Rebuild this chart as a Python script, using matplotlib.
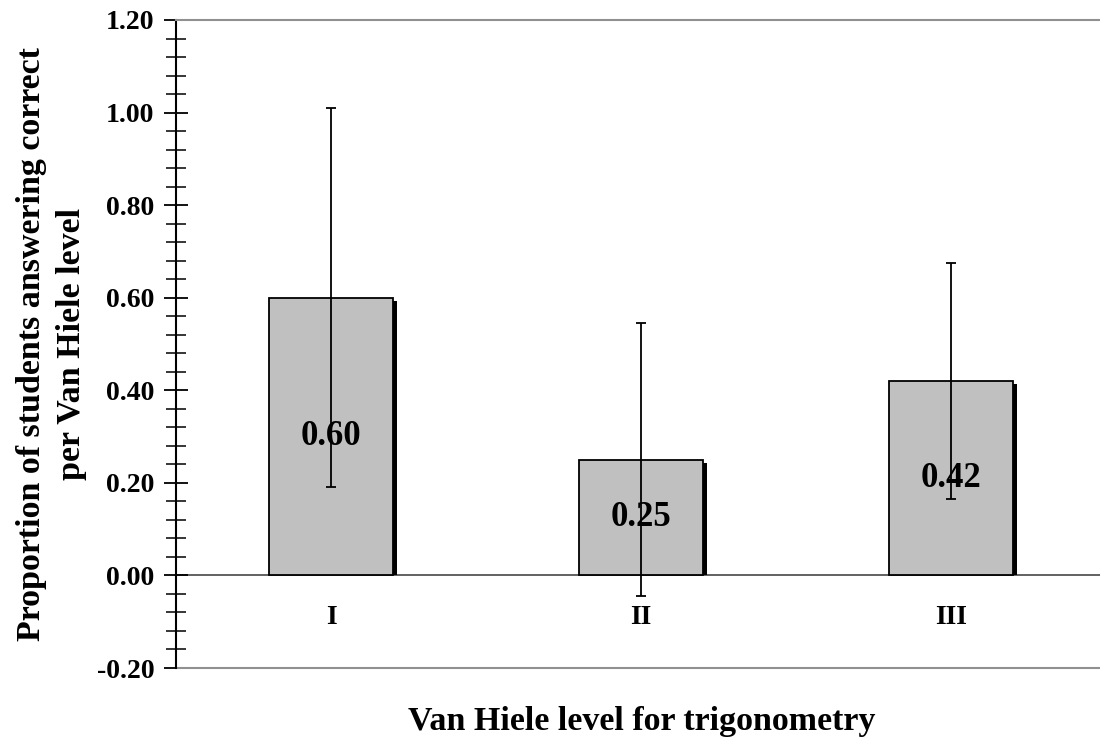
import matplotlib.pyplot as plt
from matplotlib.ticker import MultipleLocator

levels = ['I', 'II', 'III']
proportions = [0.60, 0.25, 0.42]
errors = [0.41, 0.295, 0.255]
value_labels = ['0.60', '0.25', '0.42']

plt.rcParams['font.family'] = ['Liberation Serif', 'DejaVu Serif']
plt.rcParams['font.weight'] = 'bold'

fig = plt.figure(figsize=(11, 7.4), dpi=100)
ax = fig.add_axes([176 / 1100, 72 / 740, 930 / 1100, 648 / 740])

x = list(range(len(levels)))

# shadow behind each bar
shadow_dx = 4 / 310
shadow_dy = 3 / 463
ax.bar([i + shadow_dx for i in x], [p - shadow_dy for p in proportions], width=0.4,
       color='black', zorder=2)
ax.bar(x, proportions, width=0.4, color='#c0c0c0', edgecolor='black', linewidth=1.3, zorder=3)

for i, p, lab in zip(x, proportions, value_labels):
    ax.text(i, p / 2, lab, ha='center', va='center', fontsize=25, fontweight='bold', zorder=4)

ax.errorbar(x, proportions, yerr=errors, fmt='none', ecolor='black', elinewidth=1.3,
            capsize=3.6, capthick=1.3, zorder=5)

ax.set_xlim(-0.5, 2.5)
ax.set_ylim(-0.2, 1.2)
ax.yaxis.set_major_locator(MultipleLocator(0.2))
ax.yaxis.set_minor_locator(MultipleLocator(0.04))
ax.yaxis.set_major_formatter(lambda v, pos: f'{v:.2f}')

ax.spines['right'].set_visible(False)
ax.spines['top'].set_color('#909090')
ax.spines['top'].set_linewidth(1.5)
ax.spines['left'].set_color('black')
ax.spines['left'].set_linewidth(1.5)
ax.spines['bottom'].set_position(('data', 0))
ax.spines['bottom'].set_color('#555555')
ax.spines['bottom'].set_linewidth(1.3)
ax.spines['bottom'].set_zorder(1)
ax.axhline(-0.2, color='#909090', linewidth=1.5, clip_on=False)

ax.tick_params(axis='y', which='major', direction='inout', length=17, width=1.3,
               labelsize=20, pad=7)
ax.tick_params(axis='y', which='minor', direction='inout', length=14, width=1.1)
ax.set_xticks(x)
ax.set_xticklabels(levels, fontsize=20, fontweight='bold')
ax.tick_params(axis='x', length=0, pad=21)
for t in ax.get_yticklabels():
    t.set_fontweight('bold')

ax.set_ylabel('Proportion of students answering correct\nper Van Hiele level',
              fontsize=24.5, fontweight='bold', labelpad=7, linespacing=1.4)
fig.supxlabel('Van Hiele level for trigonometry', x=642 / 1100, y=10 / 740, va='baseline',
              fontsize=24.5, fontweight='bold')

fig.savefig('out.png', dpi=100)
